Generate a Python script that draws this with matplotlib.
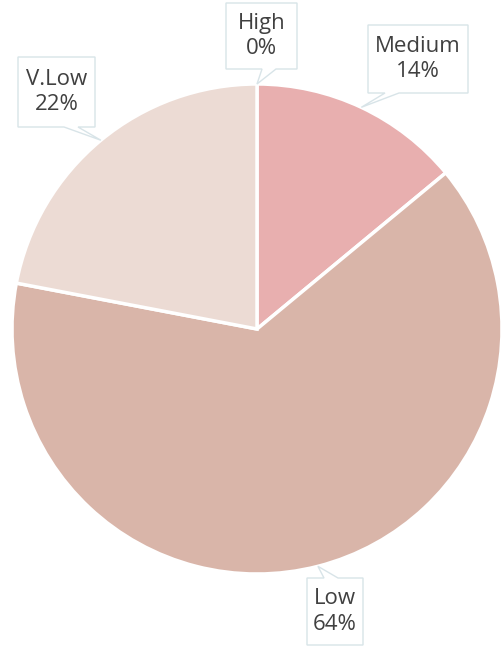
import numpy as np
import matplotlib.pyplot as plt
from matplotlib.patches import Polygon

# dados
categorias = ['High', 'Medium', 'Low', 'V.Low']
valores = [0, 14, 64, 22]
cores = ['#E39A9A', '#E8AFAF', '#D9B5A9', '#ECDBD4']

H = 649
cx, cy, r = 257, 320, 245

fig = plt.figure(figsize=(5.02, 6.49), dpi=100)
ax = fig.add_axes([0, 0, 1, 1])

ax.pie(valores, colors=cores, startangle=90, counterclock=False,
       center=(cx, cy), radius=r, frame=True,
       wedgeprops=dict(edgecolor='white', linewidth=2.5))
ax.set_xlim(0, 502)
ax.set_ylim(0, H)
ax.set_aspect('equal')
ax.axis('off')

# caixas dos rótulos (pixels: esquerda, topo, direita, base) e lado do ponteiro
caixas = {
    'High': ((226, 3, 297, 69), 'bottom'),
    'Medium': ((368, 25, 468, 93), 'bottom'),
    'Low': ((307, 578, 363, 645), 'top'),
    'V.Low': ((18, 57, 95, 127), 'bottom'),
}

total = sum(valores)
acum = 0
for cat, v in zip(categorias, valores):
    meio = acum + v / 2
    acum += v
    ang = np.deg2rad(90 - 360 * meio / total)
    tx = cx + r * np.cos(ang)
    ty = H - (cy + r * np.sin(ang))  # em pixels (y para baixo)
    (x0, y0, x1, y1), lado = caixas[cat]
    w = 7
    bx = np.clip(tx, x0 + 12, x1 - 12)
    bx = bx + (12 if bx < (x0 + x1) / 2 else -12)
    if lado == 'bottom':
        pts = [(x0, y0), (x1, y0), (x1, y1), (bx + w, y1), (tx, ty), (bx - w, y1), (x0, y1)]
    else:
        pts = [(x0, y0), (bx - w, y0), (tx, ty), (bx + w, y0), (x1, y0), (x1, y1), (x0, y1)]
    pts = [(px, H - py) for px, py in pts]
    ax.add_patch(Polygon(pts, closed=True, facecolor='white', edgecolor='#D8E4E8',
                         linewidth=1, zorder=5))
    xc = (x0 + x1) / 2
    yc = H - (y0 + y1) / 2
    ax.text(xc, yc, f'{cat}\n{v}%', ha='center', va='center', fontsize=16,
            color='#404040', family='Open Sans', linespacing=1.3, zorder=6)

plt.savefig('out.png', dpi=100)
